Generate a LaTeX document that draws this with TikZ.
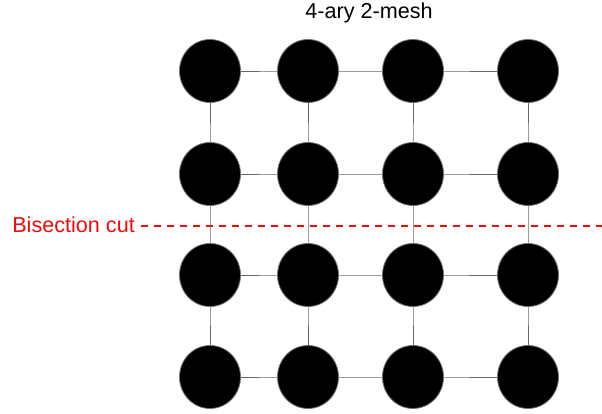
\documentclass[tikz,border=0pt]{standalone}
\usepackage{fontspec}
\setmainfont{Liberation Sans}
\usetikzlibrary{shapes.geometric}
\definecolor{cutred}{RGB}{240,10,10}
\tikzset{
  meshnode/.style={ellipse,draw=black!55,line width=0.8pt,fill=black,minimum width=61pt,minimum height=63pt,inner sep=0pt},
  meshedge/.style={draw=black!60,line width=0.8pt},
  bisectline/.style={draw=cutred,line width=2pt,dash pattern=on 7pt off 6pt},
  lbl/.style={font=\fontsize{21.6}{24}\selectfont,inner sep=0pt}
}
\begin{document}
\begin{tikzpicture}[x=1pt,y=-1pt]
\useasboundingbox (0,0) rectangle (602,414);
\node[lbl,anchor=center] (title) at (369,13) {4-ary 2-mesh};
\foreach \c/\x in {1/210,2/308,3/413,4/528}{
  \foreach \r/\y in {1/71,2/174,3/275,4/377}{
    \coordinate (p\r\c) at (\x,\y);
  }
}
\node[lbl,text=cutred,anchor=east] (cut) at (135,225) {Bisection cut};
\coordinate (cutstart) at (141,225.5);
\coordinate (cutend) at (602,225.5);
\path[bisectline] (cutstart) -- (cutend);
% edges
\foreach \r in {1,2,3,4}{
  \draw[meshedge] (p\r1) -- (p\r2) -- (p\r3) -- (p\r4);
}
\foreach \c in {1,2,3,4}{
  \draw[meshedge] (p1\c) -- (p2\c) -- (p3\c) -- (p4\c);
}
\foreach \r in {1,2,3,4}{
  \foreach \c in {1,2,3,4}{
    \node[meshnode] (n\r\c) at (p\r\c) {};
  }
}
\end{tikzpicture}
\end{document}
